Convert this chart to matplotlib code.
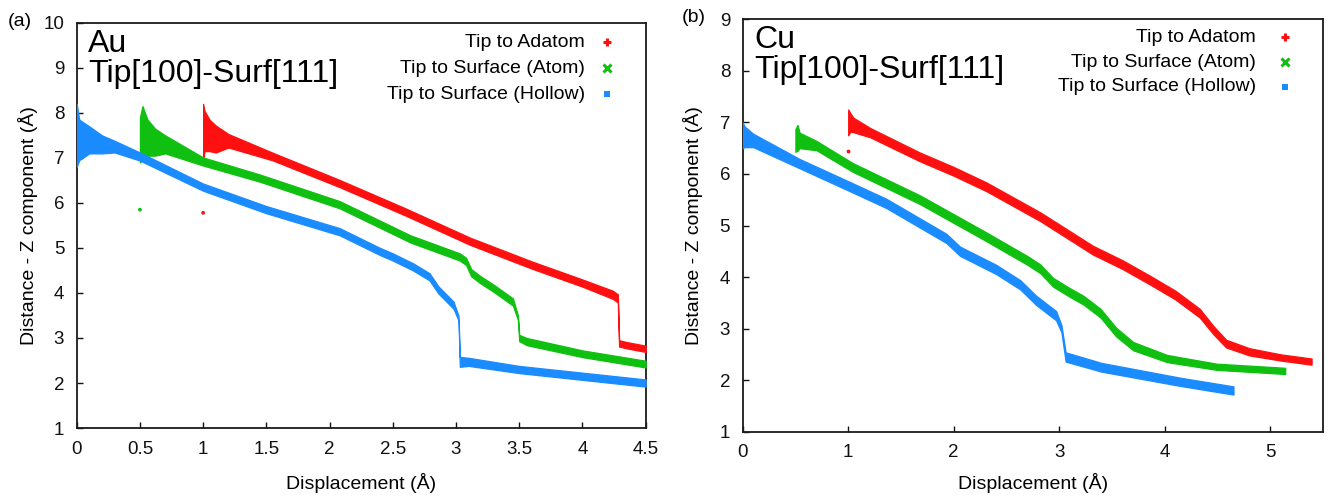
import matplotlib
matplotlib.use("Agg")
import matplotlib.pyplot as plt
import numpy as np

plt.rcParams['font.family'] = ['Liberation Sans', 'DejaVu Sans']

# ---------------- data: panel (a) Au ----------------
au_adatom_x = [1.0, 1.01, 1.05, 1.1, 1.2, 1.55, 2.08, 2.6, 3.11, 3.6, 4.0, 4.24, 4.28, 4.29, 4.35, 4.5]
au_adatom_y = [7.55, 7.6, 7.5, 7.42, 7.38, 7.03, 6.43, 5.8, 5.15, 4.62, 4.22, 3.96, 3.88, 2.88, 2.84, 2.76]
au_adatom_w = [0.65, 0.45, 0.35, 0.3, 0.15, 0.085, 0.08, 0.08, 0.08, 0.08, 0.08, 0.09, 0.09, 0.07, 0.07, 0.07]

au_atom_x = [0.5, 0.52, 0.56, 0.62, 0.7, 1.0, 1.45, 2.08, 2.64, 3.03, 3.08, 3.12, 3.19, 3.3, 3.45, 3.49, 3.5, 3.56, 4.0, 4.5]
au_atom_y = [7.4, 7.55, 7.45, 7.35, 7.3, 6.92, 6.55, 5.96, 5.2, 4.8, 4.7, 4.45, 4.3, 4.1, 3.8, 3.45, 3.0, 2.92, 2.65, 2.42]
au_atom_w = [0.5, 0.6, 0.4, 0.3, 0.2, 0.09, 0.08, 0.08, 0.08, 0.08, 0.08, 0.08, 0.08, 0.08, 0.08, 0.05, 0.07, 0.08, 0.075, 0.075]

au_hollow_x = [0.0, 0.02, 0.1, 0.2, 0.3, 0.5, 1.0, 1.5, 2.08, 2.4, 2.5, 2.66, 2.79, 2.86, 2.98, 3.02, 3.03, 3.1, 3.5, 4.0, 4.5]
au_hollow_y = [7.5, 7.4, 7.4, 7.3, 7.25, 7.03, 6.35, 5.85, 5.36, 4.92, 4.8, 4.58, 4.36, 4.07, 3.73, 3.44, 2.47, 2.47, 2.3, 2.15, 2.0]
au_hollow_w = [0.7, 0.45, 0.3, 0.2, 0.13, 0.09, 0.08, 0.08, 0.08, 0.08, 0.08, 0.08, 0.08, 0.08, 0.08, 0.05, 0.11, 0.09, 0.08, 0.08, 0.08]

au_outlier_x = [1.0, 0.5]
au_outlier_y = [5.78, 5.85]

# ---------------- data: panel (b) Cu ----------------
cu_adatom_x = [1.0, 1.02, 1.05, 1.21, 1.68, 2.0, 2.31, 2.82, 3.32, 3.6, 3.86, 4.1, 4.33, 4.46, 4.58, 4.8, 5.1, 5.39]
cu_adatom_y = [7.0, 7.0, 6.95, 6.8, 6.33, 6.05, 5.75, 5.17, 4.52, 4.24, 3.94, 3.65, 3.3, 2.97, 2.71, 2.55, 2.44, 2.36]
cu_adatom_w = [0.25, 0.18, 0.14, 0.09, 0.085, 0.085, 0.085, 0.085, 0.085, 0.085, 0.085, 0.085, 0.085, 0.08, 0.075, 0.07, 0.06, 0.06]

cu_atom_x = [0.5, 0.52, 0.54, 0.7, 1.04, 1.68, 2.31, 2.53, 2.7, 2.82, 2.94, 3.1, 3.23, 3.39, 3.54, 3.7, 4.02, 4.49, 5.14]
cu_atom_y = [6.65, 6.7, 6.65, 6.55, 6.13, 5.5, 4.78, 4.52, 4.32, 4.16, 3.9, 3.7, 3.55, 3.3, 2.93, 2.66, 2.42, 2.26, 2.18]
cu_atom_w = [0.22, 0.25, 0.15, 0.09, 0.085, 0.085, 0.085, 0.085, 0.085, 0.085, 0.085, 0.085, 0.085, 0.085, 0.085, 0.08, 0.07, 0.06, 0.06]

cu_hollow_x = [0.0, 0.02, 0.1, 0.54, 1.0, 1.36, 1.93, 2.06, 2.4, 2.63, 2.78, 2.97, 3.02, 3.06, 3.4, 4.14, 4.65]
cu_hollow_y = [6.75, 6.72, 6.65, 6.2, 5.77, 5.43, 4.75, 4.5, 4.15, 3.85, 3.55, 3.25, 3.0, 2.45, 2.25, 1.97, 1.8]
cu_hollow_w = [0.25, 0.2, 0.13, 0.09, 0.09, 0.09, 0.09, 0.09, 0.09, 0.09, 0.09, 0.09, 0.07, 0.09, 0.085, 0.08, 0.08]

cu_outlier_x = [1.0]
cu_outlier_y = [6.45]

series_labels = ['Tip to Adatom', 'Tip to Surface (Atom)', 'Tip to Surface (Hollow)']
au_xticks = [0, 0.5, 1, 1.5, 2, 2.5, 3, 3.5, 4, 4.5]
au_xticklabels = ['0', '0.5', '1', '1.5', '2', '2.5', '3', '3.5', '4', '4.5']
cu_xticks = [0, 1, 2, 3, 4, 5]
au_yticks = list(range(1, 11))
cu_yticks = list(range(1, 10))

RED = '#ff1010'
GREEN = '#10c010'
BLUE = '#1a8cff'
colors = [RED, GREEN, BLUE]
markers = ['+', 'x', 's']

fig = plt.figure(figsize=(13.34, 4.96), dpi=100)
ax_a = fig.add_axes([0.0575, 0.137, 0.4265, 0.817])
ax_b = fig.add_axes([0.5567, 0.1296, 0.4352, 0.8315])


def band(ax, x, y, w, c):
    x = np.asarray(x); y = np.asarray(y); w = np.asarray(w)
    ax.fill_between(x, y - w, y + w, color=c, lw=0.9, edgecolor=c, zorder=3)


def style(ax, xlim, ylim, xticks, xticklabels, yticks):
    ax.set_xlim(*xlim)
    ax.set_ylim(*ylim)
    ax.set_xticks(xticks)
    ax.set_xticklabels(xticklabels)
    ax.set_yticks(yticks)
    ax.tick_params(direction='in', length=4, width=1, labelsize=13.5, pad=9,
                   top=False, right=False, colors='#111111')
    for s in ax.spines.values():
        s.set_linewidth(1.3)
        s.set_color('#1a1a1a')
    ax.set_xlabel('Displacement (Å)', fontsize=14)
    ax.set_ylabel('Distance - Z component (Å)', fontsize=14)


# panel (a)
band(ax_a, au_adatom_x, au_adatom_y, au_adatom_w, RED)
band(ax_a, au_atom_x, au_atom_y, au_atom_w, GREEN)
band(ax_a, au_hollow_x, au_hollow_y, au_hollow_w, BLUE)
ax_a.scatter(au_outlier_x, au_outlier_y, s=3, c=[RED, GREEN], zorder=4)
style(ax_a, (0, 4.5), (1, 10), au_xticks, au_xticklabels, au_yticks)
ax_a.xaxis.set_label_coords(0.5, -0.11)
ax_a.yaxis.set_label_coords(-0.068, 0.5)

# panel (b)
band(ax_b, cu_adatom_x, cu_adatom_y, cu_adatom_w, RED)
band(ax_b, cu_atom_x, cu_atom_y, cu_atom_w, GREEN)
band(ax_b, cu_hollow_x, cu_hollow_y, cu_hollow_w, BLUE)
ax_b.scatter(cu_outlier_x, cu_outlier_y, s=3, c=RED, zorder=4)
style(ax_b, (0, 5.5), (1, 9), cu_xticks, [str(v) for v in cu_xticks], cu_yticks)
ax_b.xaxis.set_label_coords(0.5, -0.10)
ax_b.yaxis.set_label_coords(-0.068, 0.5)

# titles inside axes
ax_a.text(0.0204, 0.9285, 'Au', transform=ax_a.transAxes, fontsize=23, va='baseline', ha='left')
ax_a.text(0.0204, 0.8544, 'Tip[100]-Surf[111]', transform=ax_a.transAxes, fontsize=23, va='baseline', ha='left')
ax_b.text(0.0195, 0.9297, 'Cu', transform=ax_b.transAxes, fontsize=23, va='baseline', ha='left')
ax_b.text(0.0195, 0.857, 'Tip[100]-Surf[111]', transform=ax_b.transAxes, fontsize=23, va='baseline', ha='left')

# manual legends (text right-aligned, marker on the right)
def legend(ax, tx, mx, rows):
    for lab, c, m, ry in zip(series_labels, colors, markers, rows):
        ax.text(tx, ry, lab, transform=ax.transAxes, fontsize=14, ha='right', va='center')
        ms = 6 if m != 's' else 5
        ax.plot([mx], [ry], marker=m, color=c, ms=ms, mew=2.2 if m != 's' else 0,
                transform=ax.transAxes, clip_on=False, linestyle='none')

legend(ax_a, 0.893, 0.932, [0.952, 0.888, 0.824])
legend(ax_b, 0.884, 0.934, [0.957, 0.896, 0.836])

fig.text(0.006, 0.956, '(a)', fontsize=14, ha='left', va='center')
fig.text(0.511, 0.964, '(b)', fontsize=14, ha='left', va='center')

fig.savefig('out.png', dpi=100)
